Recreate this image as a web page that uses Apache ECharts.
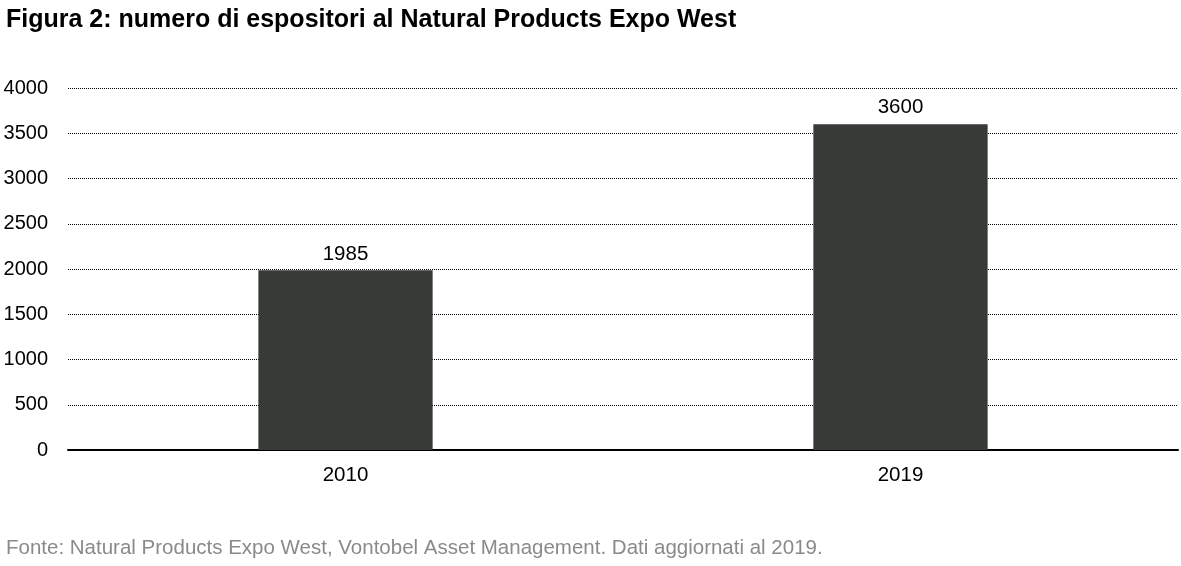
<!DOCTYPE html>
<html><head><meta charset="utf-8">
<script src="https://cdn.jsdelivr.net/npm/echarts@6/dist/echarts.min.js"></script>
<style>html,body{margin:0;padding:0;background:#fff}#c{width:1181px;height:566px}</style>
</head><body><div id="c"></div>
<script>
const categories = ['2010', '2019'];
const exhibitors = [1985, 3600];
const titleText = 'Figura 2: numero di espositori al Natural Products Expo West';
const sourceText = 'Fonte: Natural Products Expo West, Vontobel Asset Management. Dati aggiornati al 2019.';

const chart = echarts.init(document.getElementById('c'));
chart.setOption({
  animation: false,
  textStyle: { fontFamily: 'Liberation Sans, Arial, sans-serif' },
  title: [
    { text: titleText, left: 1, top: 3, textStyle: { fontSize: 25, fontWeight: 'bold', color: '#000', fontFamily: 'Liberation Sans' } },
    { text: sourceText, left: 1, top: 533, textStyle: { fontSize: 20.5, fontWeight: 'normal', color: '#8a8a8a', fontFamily: 'Liberation Sans' } }
  ],
  grid: { left: 68, right: 3, top: 88, bottom: 116 },
  xAxis: {
    type: 'category', data: categories,
    axisLine: { lineStyle: { color: '#000', width: 2 } },
    axisTick: { show: false },
    axisLabel: { fontSize: 20.5, color: '#000', margin: 15, fontFamily: 'Liberation Sans' }
  },
  yAxis: {
    type: 'value', min: 0, max: 4000, interval: 500,
    axisLine: { show: false }, axisTick: { show: false },
    axisLabel: { fontSize: 20, color: '#000', margin: 20, fontFamily: 'Liberation Sans', formatter: v => String(v) },
    splitLine: { lineStyle: { type: [1, 1], color: '#000', width: 1 } }
  },
  series: [{
    type: 'bar', data: exhibitors, barWidth: '31.4%',
    itemStyle: { color: '#383a37' },
    label: { show: true, position: 'top', fontSize: 20.5, color: '#000', distance: 6, fontFamily: 'Liberation Sans' }
  }]
});
</script></body></html>
